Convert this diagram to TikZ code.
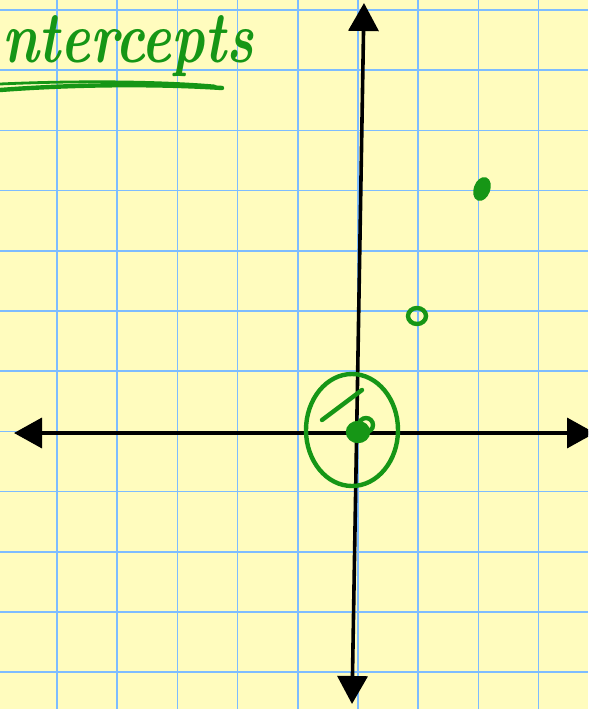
\documentclass[tikz,border=0pt]{standalone}
\usetikzlibrary{arrows.meta,shapes.geometric}
\definecolor{paper}{RGB}{255,252,190}
\definecolor{gridblue}{RGB}{125,188,255}
\definecolor{pen}{RGB}{22,150,22}
\tikzset{gridline/.style={gridblue,line width=.8mm},
 axis/.style={line width=1.8mm,{Triangle[length=14mm,width=15mm]}-{Triangle[length=14mm,width=15mm]}},
 ink/.style={pen,line width=2.2mm,line cap=round,line join=round},
 ptdot/.style={ellipse,draw=pen,line width=2.2mm,inner sep=0pt}}
\begin{document}
\begin{tikzpicture}[x=.5mm,y=-.5mm]
\useasboundingbox (0,0) rectangle (588,709);
\clip (0,0) rectangle (588,709);
\fill[paper] (0,0) rectangle (588,709);
\foreach \i in {0,...,9} \draw[gridline] (57+60.2*\i,0) -- +(0,709);
\foreach \j in {0,...,11} \draw[gridline] (0,10+60.2*\j) -- +(588,0);
% axes
\coordinate (ytop) at (364,3); \coordinate (ybot) at (352,704);
\coordinate (xleft) at (14,433); \coordinate (xright) at (595,433);
\draw[axis] (xleft) -- (xright);
\draw[axis] (ybot) -- (ytop);
% title
\node[pen,anchor=base west,inner sep=0pt,yscale=1.3,transform shape,
 font=\bfseries\itshape\fontsize{80}{84}\selectfont] (title) at (2,62) {ntercepts};
\draw[ink] (0,90) .. controls (80,84) and (160,84) .. (222,88);
\draw[ink,line width=1.4mm] (0,84) .. controls (90,80) and (170,82) .. (215,86);
% points
\node[ptdot,minimum width=9mm,minimum height=8mm] (pa) at (417,316) {};
\node[ptdot,fill=pen,minimum width=6mm,minimum height=10mm,rotate=-20] (pb) at (482,189) {};
\node[ptdot,fill=pen,minimum width=10mm,minimum height=9mm] (po) at (358,432) {};
\node[ptdot,minimum width=7mm,minimum height=7mm] (poring) at (366,425) {};
\draw[ink] (352,430) ellipse [x radius=46,y radius=56];
\draw[ink] (322,420) -- (362,390);
\end{tikzpicture}
\end{document}
